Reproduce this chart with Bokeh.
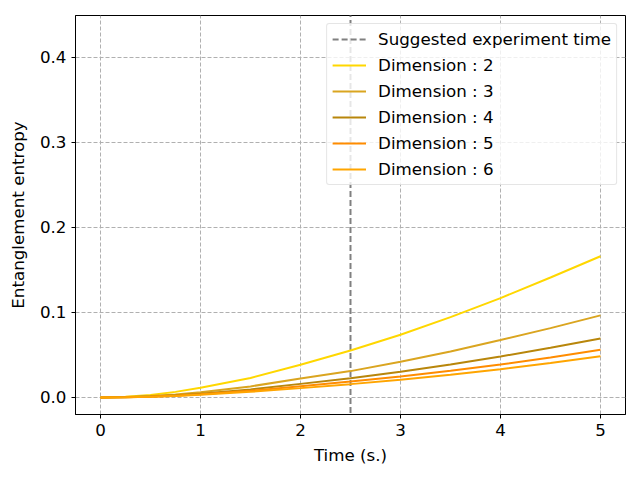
from bokeh.plotting import figure
from bokeh.embed import file_html
from bokeh.resources import INLINE
from bokeh.models import FixedTicker, PrintfTickFormatter, Range1d, Legend, LegendItem

# Data
time = [0.0, 0.25, 0.5, 0.75, 1.0, 1.5, 2.0, 2.5, 3.0, 3.5, 4.0, 4.5, 5.0]
dim2 = [0.0, 0.0009, 0.0030, 0.0066, 0.0114, 0.0230, 0.0384, 0.0553, 0.0737, 0.0945, 0.1168, 0.1410, 0.1660]
dim3 = [0.0, 0.0005, 0.0017, 0.0036, 0.0062, 0.0130, 0.0224, 0.0310, 0.0420, 0.0540, 0.0675, 0.0815, 0.0965]
dim4 = [0.0, 0.0004, 0.0012, 0.0026, 0.0045, 0.0095, 0.0160, 0.0227, 0.0302, 0.0388, 0.0482, 0.0585, 0.0694]
dim5 = [0.0, 0.0003, 0.0010, 0.0021, 0.0037, 0.0079, 0.0133, 0.0188, 0.0247, 0.0315, 0.0388, 0.0470, 0.0561]
dim6 = [0.0, 0.0003, 0.0009, 0.0018, 0.0031, 0.0066, 0.0110, 0.0157, 0.0208, 0.0267, 0.0333, 0.0405, 0.0486]
series = [("Dimension : 2", dim2, "#FFD700"),
          ("Dimension : 3", dim3, "#DAA520"),
          ("Dimension : 4", dim4, "#B8860B"),
          ("Dimension : 5", dim5, "#FF8C00"),
          ("Dimension : 6", dim6, "#FFA500")]
suggested_time = 2.5
x_ticks = [0, 1, 2, 3, 4, 5]
y_ticks = [0.0, 0.1, 0.2, 0.3, 0.4]

FONT = "DejaVu Sans"
FS = "16.7px"

p = figure(width=632, height=472, output_backend="svg", toolbar_location=None,
           x_range=Range1d(-0.25, 5.25), y_range=Range1d(-0.02, 0.449),
           min_border_left=75, min_border_right=7, min_border_top=15, min_border_bottom=58)

p.outline_line_color = "black"
p.outline_line_width = 1
p.background_fill_color = "white"
p.border_fill_color = "white"

for ax in (p.xaxis[0], p.yaxis[0]):
    ax.axis_line_color = "black"
    ax.major_tick_line_color = "black"
    ax.major_tick_out = 4
    ax.major_tick_in = 0
    ax.minor_tick_line_color = None
    ax.major_label_text_font = FONT
    ax.major_label_text_font_size = FS
    ax.major_label_text_color = "black"
    ax.axis_label_text_font = FONT
    ax.axis_label_text_font_size = FS
    ax.axis_label_text_font_style = "normal"
    ax.axis_label_text_color = "black"

p.xaxis.ticker = FixedTicker(ticks=x_ticks)
p.yaxis.ticker = FixedTicker(ticks=y_ticks)
p.yaxis.formatter = PrintfTickFormatter(format="%.1f")
p.xaxis.axis_label = "Time (s.)"
p.yaxis.axis_label = "Entanglement entropy"
p.xaxis.axis_label_standoff = 6
p.yaxis.axis_label_standoff = 9

p.grid.grid_line_color = "#b0b0b0"
p.grid.grid_line_dash = "4 2"
p.grid.grid_line_width = 1

items = []
vline = p.line(x=[suggested_time, suggested_time], y=[-0.05, 0.6], line_color="#808080",
               line_width=2, line_dash="6 3")
items.append(LegendItem(label="Suggested experiment time", renderers=[vline]))

for label, ys, color in series:
    r = p.line(x=time, y=ys, line_color=color, line_width=2)
    items.append(LegendItem(label=label, renderers=[r]))

legend = Legend(items=items, location="top_right")
legend.margin = 8
legend.padding = 5
legend.spacing = 6
legend.glyph_width = 34
legend.glyph_height = 20
legend.label_height = 20
legend.label_standoff = 12
legend.label_text_font = FONT
legend.label_text_font_size = FS
legend.label_text_color = "black"
legend.border_line_color = "#cccccc"
legend.border_line_width = 1
legend.background_fill_alpha = 0.8
legend.border_radius = 3
p.add_layout(legend)

open("out.html", "w").write(file_html(p, INLINE))
